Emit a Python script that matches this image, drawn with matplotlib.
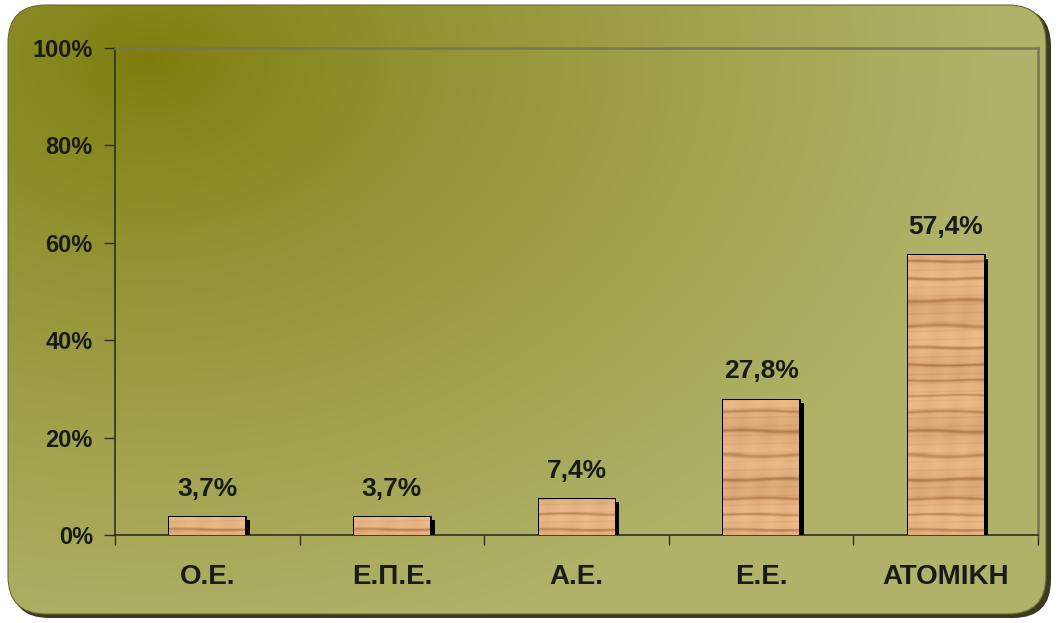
import numpy as np
import matplotlib
matplotlib.use("Agg")
from matplotlib import pyplot as plt
from matplotlib.patches import FancyBboxPatch
from matplotlib import patheffects as pe

categories = ["Ο.Ε.", "Ε.Π.Ε.", "Α.Ε.", "Ε.Ε.", "ΑΤΟΜΙΚΗ"]
values = [3.7, 3.7, 7.4, 27.8, 57.4]
y_ticks = [0, 20, 40, 60, 80, 100]

plt.rcParams['font.family'] = ['Liberation Sans', 'DejaVu Sans']

W, H = 1057, 623
fig = plt.figure(figsize=(W / 100, H / 100), dpi=100)
fig.patch.set_facecolor("white")

# background panel in pixel coordinates
bg = fig.add_axes([0, 0, 1, 1])
bg.axis("off")

shadow = FancyBboxPatch((11, 8), 1040, 610, boxstyle="round,pad=0,rounding_size=38",
                        facecolor="#3a3a20", edgecolor="none", zorder=0)
bg.add_patch(shadow)
panel = FancyBboxPatch((8, 5), 1038, 609, boxstyle="round,pad=0,rounding_size=38",
                       facecolor="none", edgecolor="#6a6a38", linewidth=0.8, zorder=2)
bg.add_patch(panel)

yy, xx = np.mgrid[0:H, 0:W]
d = np.hypot(xx - 150, (yy - 60) * 1.4) / 850
t = np.clip(d, 0, 1) ** 0.8
c0 = np.array([0.49, 0.49, 0.05])
c1 = np.array([0.69, 0.70, 0.41])
grad = c0[None, None, :] * (1 - t[..., None]) + c1[None, None, :] * t[..., None]
im = bg.imshow(grad, extent=(0, W, H, 0), interpolation="bilinear", zorder=1)
im.set_clip_path(panel)
bg.set_xlim(0, W)
bg.set_ylim(H, 0)

# main chart
ax = fig.add_axes([115 / W, 88 / H, (1038 - 115) / W, (535 - 48) / H])
ax.set_facecolor("none")
x = np.arange(len(categories))
bars = ax.bar(x, values, width=0.41, facecolor="#d79a68", edgecolor="black",
              linewidth=2.0, zorder=3,
              path_effects=[pe.withSimplePatchShadow(offset=(3.5, -2.2),
                                                     shadow_rgbFace="black",
                                                     alpha=1.0),
                            pe.Normal()])

# wood grain texture inside each bar
ty = np.linspace(0, 1, 400)[:, None]
tx = np.linspace(0, 1, 60)[None, :]
band = np.sin(ty * 97 + 0.25 * np.sin(tx * 5 + ty * 20) + 2.0 * np.sin(ty * 13))
grain = 1 - 0.5 * np.clip(band, 0, 1) ** 8
grain = grain - 0.15 * (0.5 + 0.5 * np.sin(ty * 31 + 0.7))
grain = grain - 0.12 * np.clip(np.sin(ty * 211 + tx * 1.2), 0, 1) ** 6
grain = grain - 0.06 * np.sin(tx * 9 + ty * 4) ** 2
grain = np.clip(grain, 0, 1)
light = np.array([0.93, 0.73, 0.54])
dark = np.array([0.60, 0.37, 0.20])
wood = light * grain[..., None] + dark * (1 - grain[..., None])
for b in bars:
    x0, w, h = b.get_x(), b.get_width(), b.get_height()
    rows = max(int(400 * h / 60), 8)
    wim = ax.imshow(wood[-rows:], extent=(x0, x0 + w, 0, h), aspect="auto",
                    interpolation="bilinear", zorder=3.5)
    wim.set_clip_path(b)

for xi, v in zip(x, values):
    ax.text(xi, v + 4.4, f"{v:.1f}%".replace(".", ","), ha="center", va="baseline",
            fontsize=19, fontweight="bold", color="#1a1a1a", zorder=5)

ax.set_xlim(-0.5, len(categories) - 0.5)
ax.set_ylim(0, 100)
ax.set_yticks(y_ticks)
ax.set_yticklabels([f"{v}%" for v in y_ticks], fontsize=17, fontweight="bold",
                   color="#1a1a1a")
ax.set_xticks(x)
ax.set_xticklabels(categories, fontsize=20, fontweight="bold", color="#1a1a1a")
ax.set_xticks(np.arange(-0.5, len(categories)), minor=True)
ax.tick_params(axis="x", which="major", length=0, pad=21)
ax.tick_params(axis="x", which="minor", length=7, width=1, color="#303020",
               direction="out")
ax.tick_params(axis="y", length=8, width=1, color="#303020", pad=8)

for s in ["left", "bottom"]:
    ax.spines[s].set_color("#303020")
    ax.spines[s].set_linewidth(1.2)
for s in ["top", "right"]:
    ax.spines[s].set_color("#76765a")
    ax.spines[s].set_linewidth(1.8)

fig.savefig("out.png", dpi=100)
